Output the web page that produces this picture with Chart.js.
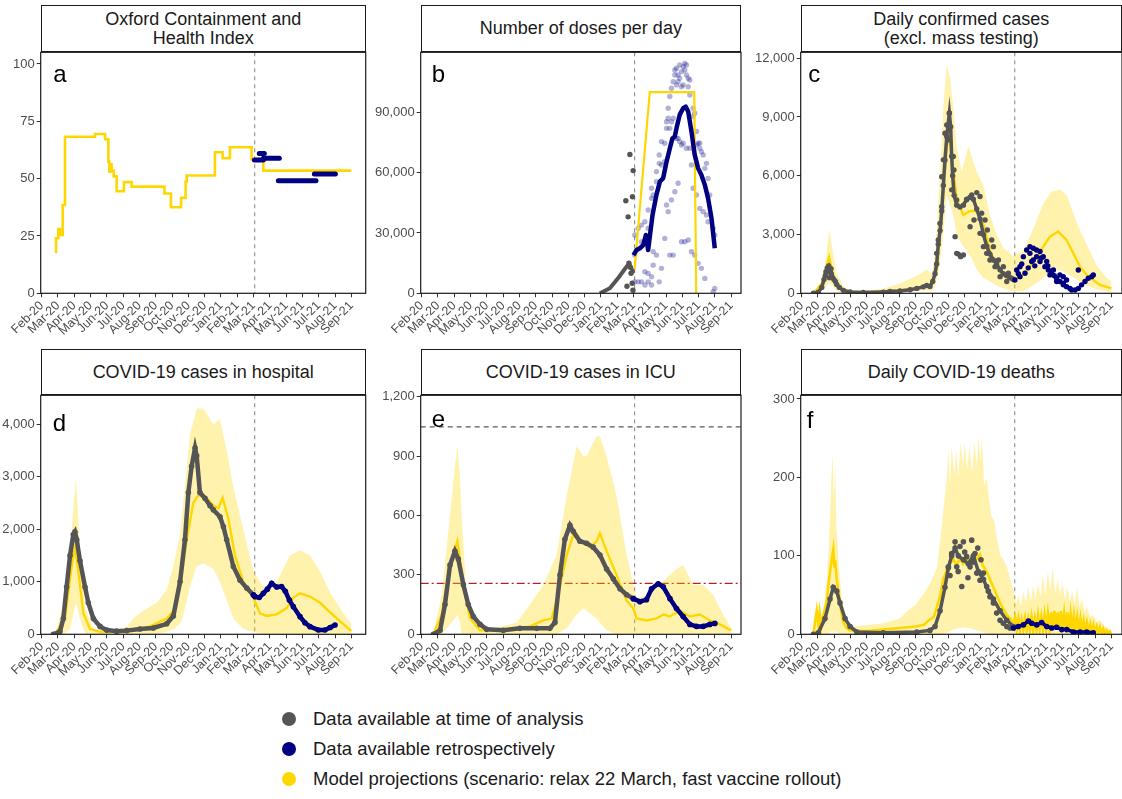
<!DOCTYPE html>
<html>
<head>
<meta charset="utf-8">
<script src="https://cdn.jsdelivr.net/npm/chart.js@4.4.1/dist/chart.umd.min.js"></script>
<style>
  body { margin: 0; width: 1122px; height: 799px; overflow: hidden; background: #fff; position: relative;
         font-family: "Liberation Sans", Arial, sans-serif; }
  canvas { position: absolute; }
  .strip { position: absolute; box-sizing: border-box; border: 1.3px solid #1a1a1a; background: #fff;
           display: flex; align-items: center; justify-content: center; text-align: center;
           font-size: 18px; line-height: 19px; color: #1a1a1a; }
  .legend { position: absolute; left: 282px; top: 704px; font-size: 18.5px; color: #1a1a1a; }
  .legend div { height: 30px; display: flex; align-items: center; }
  .legend .dot { width: 14px; height: 14px; border-radius: 50%; margin-right: 17px; }
</style>
</head>
<body>
<div class="legend">
  <div><span class="dot" style="background:#555555"></span>Data available at time of analysis</div>
  <div><span class="dot" style="background:#000080"></span>Data available retrospectively</div>
  <div><span class="dot" style="background:#FFD700"></span>Model projections (scenario: relax 22 March, fast vaccine rollout)</div>
</div>
<script>
// -------------------- Axes (x = mois depuis le 1er février 2020)
const months = ['Feb-20','Mar-20','Apr-20','May-20','Jun-20','Jul-20','Aug-20','Sep-20','Oct-20','Nov-20',
                'Dec-20','Jan-21','Feb-21','Mar-21','Apr-21','May-21','Jun-21','Jul-21','Aug-21','Sep-21'];
const monthTicks = [0,1,2,3,4,5,6,7,8,9,10,11,12,13,14,15,16,17,18,19];
const analysisDate = 13.07;

const oxfordTicks = [0, 25, 50, 75, 100];
const doseTicks = [0, 30000, 60000, 90000];
const caseTicks = [0, 3000, 6000, 9000, 12000];
const hospTicks = [0, 1000, 2000, 3000, 4000];
const icuTicks = [0, 300, 600, 900, 1200];
const deathTicks = [0, 100, 200, 300];

// -------------------- a : Oxford index
const oxfordModel = [[0.82,18],[0.88,24],[1.02,28],[1.12,25.5],[1.29,38.5],[1.43,68.3],[3.27,69.5],[3.89,67.2],
  [4.09,57.5],[4.15,53],[4.23,56.3],[4.29,53.5],[4.42,51],[4.6,44.5],[5.05,48.5],[5.52,46.5],[7.53,43.5],
  [7.93,37.5],[8.55,41.6],[8.83,48.7],[8.9,51.4],[10.63,61.5],[11.1,58.9],[11.55,63.7],[12.88,58.4],[13.6,53.5],[19.0,53.5]];
// segments observés : [début, fin, valeur]
const oxfordObs = [[13.05,13.6,58.1],[13.35,13.66,61],[13.6,14.58,58.9],[14.52,16.83,49.1],[16.73,18.02,52]];

// -------------------- b : doses par jour
const dosesModel = [[13.07,12000],[14.0,100000],[16.73,100000],[16.85,0]];
const dosesAvgOld = [[10.94,0],[11.55,2500],[12.1,8000],[12.6,13500],[12.75,14500],[12.9,12000],[13.0,10000]];
const dosesDailyOld = [[12.53,46000],[12.67,38000],[12.78,69000],[12.94,48000],[12.98,61000],[12.6,3500],
  [12.72,15000],[12.85,10000],[12.92,5000],[12.97,1500],[12.8,13000]];
const dosesAvgNew = [[13.0,19000],[13.19,21500],[13.39,22400],[13.6,24000],[13.76,29000],[13.9,21500],[14.0,28000],
  [14.17,38900],[14.41,48900],[14.62,55500],[14.82,57200],[15.03,65400],[15.23,72000],[15.39,77000],[15.54,78000],
  [15.64,82000],[15.84,88800],[16.05,92000],[16.21,92800],[16.36,90300],[16.56,80400],[16.76,68800],[16.97,62100],
  [17.17,58800],[17.38,53900],[17.58,47200],[17.79,37300],[17.99,22400]];
const dosesDailyNew = [[13.08,29000],[13.08,19000],[13.08,5700],[13.29,32300],[13.29,5700],[13.49,33900],[13.49,25600],
  [13.49,5700],[13.7,35600],[13.7,10700],[13.7,4100],[13.9,41400],[13.9,32300],[13.9,9900],[13.9,5700],[14.11,52200],
  [14.11,47200],[14.11,8200],[14.11,4100],[14.21,48900],[14.21,20700],[14.21,14000],[14.41,60500],[14.41,55500],
  [14.41,19000],[14.58,68800],[14.58,64600],[14.58,5700],[14.72,75400],[14.72,63800],[14.72,12400],[14.92,74600],
  [14.92,65400],[14.92,27300],[15.03,85300],[15.03,82000],[15.03,43900],[15.13,92000],[15.13,87000],[15.13,40600],
  [15.23,97800],[15.23,82000],[15.23,19000],[15.33,101900],[15.33,85300],[15.33,46400],[15.44,105200],[15.44,87000],
  [15.44,19000],[15.54,111000],[15.54,108500],[15.54,50500],[15.64,111900],[15.64,103600],[15.64,77000],
  [15.74,108500],[15.74,105200],[15.74,54700],[15.74,77000],[15.84,113500],[15.84,106900],[15.84,75400],
  [15.95,110200],[15.95,102700],[15.95,73700],[15.95,25600],[16.05,112700],[16.05,103600],[16.05,74600],
  [16.15,114300],[16.15,111000],[16.15,25600],[16.25,113500],[16.25,108500],[16.25,72100],[16.36,106900],
  [16.36,102700],[16.36,26500],[16.46,106000],[16.46,98600],[16.46,72100],[16.56,63800],[16.56,20700],
  [16.66,92000],[16.66,87800],[16.66,52200],[16.76,89500],[16.76,19000],[16.87,80400],[16.87,73700],[16.87,48900],
  [16.97,74600],[16.97,14900],[17.07,74600],[17.07,72100],[17.07,42200],[17.17,70400],[17.17,12400],[17.28,68800],
  [17.28,40600],[17.38,62100],[17.38,7400],[17.48,64600],[17.48,38900],[17.58,57100],[17.58,35600],[17.68,48900],
  [17.89,32300],[17.89,800],[17.99,29000],[17.99,2400]];

// -------------------- c : cas confirmés  ([x, bas, haut] pour les bandes)
const casesBand = [[0.72,0,0],[1.02,50,300],[1.33,200,800],[1.55,400,2200],[1.68,500,3300],[1.84,450,2500],[2.15,100,1000],
  [2.56,20,350],[2.97,0,150],[3.99,0,100],[5.01,30,250],[6.03,60,500],[7.06,100,900],[7.67,150,1200],[7.98,100,1000],
  [8.18,300,2000],[8.49,1500,6000],[8.69,3000,9500],[8.9,5000,11700],[9.1,4500,11000],[9.3,4000,9500],[9.51,3000,7500],
  [9.82,2500,6200],[10.12,2200,7200],[10.22,2000,7500],[10.43,1800,7000],[10.74,1200,6200],[11.15,800,5500],
  [11.55,600,4000],[11.96,400,3000],[12.37,250,2300],[12.99,100,1900],[13.6,100,2200],[14.21,400,3300],[14.83,800,4600],
  [15.34,1100,5200],[15.85,1200,5300],[16.26,1000,5000],[16.87,700,3600],[17.48,400,2500],[18.1,200,1400],
  [18.71,100,800],[19.0,50,600]];
const casesModel = [[0.72,0],[1.23,500],[1.5,1300],[1.68,1850],[1.9,1000],[2.25,300],[2.97,50],[5.01,100],[7.06,250],
  [7.87,400],[8.28,1200],[8.59,4000],[8.9,7500],[9.04,8000],[9.2,7000],[9.51,4800],[9.92,4000],[10.33,4200],
  [10.74,4200],[11.15,3500],[11.55,2200],[11.96,1300],[12.37,900],[12.99,700],[13.6,950],[14.21,1600],[14.52,1950],
  [14.82,2380],[15.23,2890],[15.74,3150],[16.25,2720],[16.66,2040],[17.07,1360],[17.48,940],[17.89,680],[18.3,430],[19.0,250]];
const casesOld = [[0.72,0],[1.02,50],[1.23,300],[1.37,700],[1.49,1100],[1.57,1300],[1.66,1400],[1.74,1200],[1.82,1000],
  [1.9,800],[1.98,700],[2.07,600],[2.15,450],[2.31,300],[2.56,150],[2.97,70],[3.78,40],[5.01,60],[5.42,100],[6.03,120],
  [6.65,180],[7.06,250],[7.46,330],[7.67,400],[7.87,350],[8.04,600],[8.18,1000],[8.28,1500],[8.38,2500],[8.49,3200],
  [8.59,4200],[8.69,5500],[8.79,6800],[8.9,8000],[8.98,8600],[9.06,9200],[9.14,8500],[9.2,7000],[9.26,6000],[9.35,5000],
  [9.51,4500],[9.71,4400],[9.92,4500],[10.12,4800],[10.33,4900],[10.53,4800],[10.74,4300],[10.94,3800],[11.15,3000],
  [11.35,2400],[11.55,2000],[11.76,1700],[11.96,1500],[12.17,1200],[12.37,1000],[12.58,900],[12.78,800],[12.99,700]];
const casesOldScatter = [[9.06,9190],[8.9,8590],[8.79,8170],[9.0,7830],[8.69,6810],[9.3,6980],[8.59,5950],[9.34,6290],
  [9.2,5280],[9.51,4760],[8.59,4420],[8.48,3570],[8.38,2720],[8.28,2040],[9.41,2890],[9.51,2040],[9.61,2000],[9.75,1870],
  [9.92,1960],[10.12,4770],[10.43,5020],[10.74,5140],[10.94,4940],[10.33,3400],[10.57,3740],[10.94,3060],[11.15,2380],
  [11.35,2040],[11.55,1700],[11.86,1360],[12.17,850],[12.58,600],[11.04,4090],[11.25,3740],[11.39,3230],[11.66,2720],
  [11.76,2380],[12.07,1700],[12.37,1360],[12.68,1020],[12.88,770],[1.45,900],[1.62,1100],[1.7,800],[1.8,1250]];
const casesNew = [[13.08,680],[13.19,1190],[13.39,1360],[13.6,1870],[13.8,2210],[14.0,2380],[14.21,2300],[14.41,2210],
  [14.62,2130],[14.82,1870],[13.39,850],[13.7,1020],[14.11,1620],[14.21,1700],[14.62,1620],[14.92,1360],[15.13,1190],
  [15.33,1020],[15.64,770],[15.84,600],[16.05,430],[16.25,340],[16.56,170],[16.77,170],[16.97,250],[17.17,430],
  [17.38,600],[17.58,770],[17.79,850],[17.89,940],[16.97,1190],[14.0,2040],[14.41,1870],[15.03,1620],[15.44,1190],
  [15.84,940],[16.05,850],[16.25,680],[15.23,940],[15.64,600],[16.05,510],[16.46,250],[13.29,1000],[13.5,1500],
  [13.9,1300],[14.3,1400],[14.7,1800],[15.1,1400],[15.5,900]];

// -------------------- d : hôpital
const hospBand = [[0.82,0,0],[1.33,0,600],[1.74,100,1600],[2.1,600,3000],[2.35,300,1600],[2.66,0,500],[3.17,0,100],
  [3.99,0,50],[5.22,0,150],[5.62,0,300],[6.24,0,450],[7.06,0,600],[7.67,50,850],[8.08,100,1300],[8.49,200,1900],
  [8.59,250,2200],[9.1,900,3800],[9.51,1300,4300],[9.92,1350,4300],[10.53,1250,4000],[10.94,1000,4100],[11.35,650,3500],
  [11.76,300,2800],[12.37,100,2000],[12.99,50,1200],[13.6,0,900],[14.42,0,1000],[15.24,0,1500],[15.85,0,1600],
  [16.46,0,1500],[17.08,0,1200],[17.69,0,800],[18.5,0,400],[19.0,0,200]];
const hospModel = [[0.82,0],[1.43,300],[1.84,1300],[2.04,1650],[2.25,1200],[2.56,400],[2.97,100],[3.58,50],[5.62,80],
  [6.65,150],[7.67,300],[8.08,450],[8.49,900],[8.9,1800],[9.3,2500],[9.61,2650],[10.12,2600],[10.53,2450],[10.84,2400],
  [11.1,2600],[11.45,2200],[11.86,1500],[12.37,1000],[12.99,700],[13.39,400],[13.8,350],[14.42,380],[15.03,500],
  [15.44,700],[15.85,780],[16.46,720],[17.08,600],[17.69,420],[18.3,250],[19.0,60]];
const hospOld = [[0.72,0],[1.12,50],[1.33,300],[1.53,900],[1.74,1500],[1.94,1900],[2.04,1950],[2.15,1800],[2.35,1400],
  [2.66,900],[2.86,600],[3.17,300],[3.58,150],[3.99,80],[4.6,60],[5.22,70],[6.03,100],[6.85,120],[7.67,200],[8.08,350],
  [8.49,1000],[8.79,1800],[9.0,2700],[9.2,3200],[9.41,3550],[9.51,3400],[9.71,2700],[10.02,2590],[10.33,2450],
  [10.53,2370],[10.94,2240],[11.15,2050],[11.35,1800],[11.76,1290],[12.17,1030],[12.58,880],[12.99,750]];
const hospNew = [[12.99,750],[13.09,717],[13.35,700],[13.6,780],[13.85,860],[14.11,970],[14.42,900],[14.72,910],
  [14.95,820],[15.2,650],[15.44,527],[15.85,336],[16.15,220],[16.46,146],[16.97,83],[17.38,83],[17.7,130],[18.0,178]];

// -------------------- e : réanimation
const icuBand = [[0.72,0,0],[1.23,0,200],[1.74,50,600],[2.04,80,850],[2.19,100,950],[2.35,60,800],[2.45,0,600],
  [2.76,0,200],[3.17,0,50],[3.99,0,20],[5.83,0,60],[6.65,0,150],[7.46,0,250],[8.28,0,400],[8.9,30,700],[9.51,100,950],
  [9.92,130,900],[10.12,120,900],[10.74,80,1000],[10.94,60,1000],[11.35,20,900],[11.96,0,700],[12.58,0,400],
  [13.19,0,180],[13.8,0,200],[14.62,0,250],[15.23,0,300],[15.64,0,330],[16.05,0,350],[16.67,0,250],[17.28,0,250],
  [17.89,0,200],[18.5,0,100],[19.0,0,30]];
const icuModel = [[0.72,0],[1.23,100],[1.74,350],[2.19,470],[2.56,250],[2.97,80],[3.58,20],[5.01,20],[6.65,40],
  [7.46,70],[7.98,80],[8.38,200],[8.9,400],[9.3,500],[9.92,460],[10.33,440],[10.74,470],[10.94,510],[11.35,420],
  [11.96,300],[12.58,170],[12.99,130],[13.19,80],[13.8,70],[14.42,80],[14.83,100],[15.23,90],[15.85,120],[16.46,90],
  [17.08,100],[17.69,70],[18.3,50],[19.0,20]];
const icuOld = [[0.72,0],[1.13,20],[1.43,150],[1.74,350],[2.04,420],[2.25,380],[2.56,250],[2.86,150],[3.17,90],
  [3.58,50],[3.99,25],[5.01,20],[6.03,30],[7.06,30],[7.87,30],[8.18,60],[8.49,300],[8.79,480],[9.1,550],[9.3,520],
  [9.71,470],[10.12,460],[10.53,440],[10.94,400],[11.35,330],[11.76,280],[12.17,230],[12.58,200],[12.99,180]];
const icuNew = [[12.99,180],[13.39,165],[13.8,175],[14.11,230],[14.52,255],[14.83,240],[15.24,180],[15.64,130],
  [16.05,90],[16.46,50],[16.87,40],[17.28,40],[17.69,50],[18.0,55]];
const icuCapacity = 1048;
const icuBaseline = 257;

// -------------------- f : décès
const deathBand = [[0.72,0,0],[0.85,0,30],[0.95,0,8],[1.05,0,32],[1.15,0,10],[1.25,0,30],[1.35,0,20],[1.45,0,55],
  [1.55,0,70],[1.65,1,110],[1.74,2,150],[1.82,3,200],[1.9,4,230],[1.97,3,170],[2.05,4,220],[2.12,3,140],[2.2,2,120],
  [2.3,1,80],[2.45,0,50],[2.6,0,30],[2.8,0,18],[3.2,0,10],[4.0,0,12],[5.0,0,14],[6.0,0,20],[6.5,0,30],[7.0,0,38],
  [7.5,0,52],[8.0,0,70],[8.3,0,85],[8.5,0,120],[8.7,1,160],[8.9,2,200],[9.0,3,235],[9.1,4,190],[9.2,5,240],
  [9.35,6,205],[9.5,7,235],[9.6,8,200],[9.75,8,245],[9.9,9,215],[10.0,9,245],[10.15,8,210],[10.3,8,240],
  [10.45,7,205],[10.6,6,245],[10.75,5,215],[10.85,4,255],[10.95,4,220],[11.05,3,250],[11.2,2,190],[11.35,1,200],
  [11.5,0,170],[11.65,0,150],[11.8,0,145],[12.0,0,120],[12.2,0,100],[12.4,0,95],[12.6,0,85],[12.8,0,70],[13.0,0,55],
  [13.15,0,40],[13.3,0,50],[13.45,0,35],[13.6,0,55],[13.75,0,40],[13.9,0,60],[14.05,0,42],[14.2,0,62],[14.35,0,45],
  [14.5,0,65],[14.65,0,48],[14.8,0,75],[14.95,0,50],[15.1,0,80],[15.25,0,55],[15.4,0,85],[15.55,0,52],[15.7,0,70],
  [15.85,0,50],[16.0,0,65],[16.15,0,45],[16.3,0,60],[16.45,0,42],[16.6,0,55],[16.75,0,38],[16.9,0,60],[17.05,0,35],
  [17.2,0,45],[17.35,0,28],[17.5,0,35],[17.7,0,22],[17.9,0,25],[18.1,0,15],[18.3,0,18],[18.6,0,10],[19.0,0,4]];
const deathModel = [[0.72,0],[0.92,30],[1.02,12],[1.1,28],[1.2,10],[1.33,25],[1.45,35],[1.55,45],[1.65,65],[1.74,80],
  [1.84,95],[1.94,108],[2.0,85],[2.05,95],[2.15,70],[2.25,55],[2.35,40],[2.46,25],[2.56,15],[2.76,8],[2.97,5],[4.0,4],
  [5.0,6],[6.0,8],[7.0,10],[7.5,12],[7.8,18],[8.1,22],[8.3,35],[8.5,50],[8.69,70],[8.9,82],[9.1,90],[9.3,96],[9.5,88],
  [9.71,97],[9.9,90],[10.1,98],[10.33,92],[10.5,100],[10.7,95],[10.94,102],[11.1,88],[11.35,80],[11.55,70],[11.76,60],
  [11.96,50],[12.17,40],[12.37,32],[12.58,25],[12.78,20],[12.99,15],[13.1,22],[13.2,6],[13.3,20],[13.4,5],[13.5,18],
  [13.6,6],[13.7,20],[13.8,5],[13.9,19],[14.0,6],[14.1,22],[14.2,5],[14.3,20],[14.4,6],[14.5,24],[14.6,6],
  [14.7,22],[14.8,7],[14.9,25],[15.0,6],[15.1,26],[15.2,7],[15.3,28],[15.4,6],[15.5,30],[15.6,7],[15.7,28],
  [15.8,6],[15.9,30],[16.0,7],[16.1,27],[16.2,6],[16.3,28],[16.4,6],[16.5,26],[16.6,5],[16.7,24],[16.8,5],
  [16.9,22],[17.0,4],[17.1,20],[17.2,4],[17.3,17],[17.4,3],[17.5,15],[17.6,3],[17.7,13],[17.8,2],[17.9,12],[18.0,2],
  [18.1,10],[18.2,2],[18.3,9],[18.4,1],[18.5,7],[18.6,1],[18.7,5],[18.8,1],[18.9,4],[19.0,1]];
const deathOld = [[0.72,0],[1.02,2],[1.43,20],[1.74,45],[1.94,60],[2.15,55],[2.35,40],[2.66,20],[2.97,10],[3.38,3],
  [5.0,2],[7.06,3],[7.87,5],[8.18,10],[8.49,30],[8.79,60],[9.0,85],[9.2,100],[9.41,110],[9.61,100],[9.92,95],
  [10.22,90],[10.53,100],[10.84,80],[11.15,70],[11.45,55],[11.76,45],[12.17,30],[12.58,18],[12.99,10]];
const deathOldScatter = [[9.0,86],[9.2,103],[9.41,118],[9.51,86],[9.71,112],[9.92,118],[9.82,61],[10.12,99],[10.33,86],
  [10.43,120],[10.63,103],[10.74,78],[10.94,69],[11.15,78],[11.35,61],[11.55,48],[11.76,40],[11.96,27],[12.17,18],
  [12.37,14],[12.58,10],[12.78,8],[9.1,75],[9.6,80],[10.0,105],[10.2,72],[10.5,92],[10.8,110],[11.0,95]];
const deathNew = [[12.99,8],[13.29,10],[13.6,12],[13.91,17],[14.11,14],[14.42,12],[14.72,15],[15.03,10],[15.34,8],
  [15.64,9],[15.95,6],[16.26,6],[16.67,3],[17.08,3],[17.48,3],[17.89,2]];

// -------------------- Couleurs et helpers
const FONT = '"Liberation Sans", Arial, sans-serif';
const GOLD = '#FFD700', NAVY = '#000080', GREY = '#555555';
const RIBBON = 'rgba(255, 215, 0, 0.32)';

const xy = arr => arr.map(([x, y]) => ({ x, y }));

function ribbon(arr) {
    return [
        { data: arr.map(([x, lo]) => ({ x, y: lo })), borderColor: 'transparent', borderWidth: 0, pointRadius: 0, fill: false, order: 10 },
        { data: arr.map(([x, , hi]) => ({ x, y: hi })), borderColor: 'transparent', borderWidth: 0, pointRadius: 0, fill: '-1', backgroundColor: RIBBON, order: 10 }
    ];
}
function line(arr, color, width, order, extra) {
    return Object.assign({ data: xy(arr), borderColor: color, borderWidth: width, pointRadius: 0, fill: false, order }, extra || {});
}
function dots(arr, color, r, order) {
    return { data: xy(arr), showLine: false, pointRadius: r, pointBackgroundColor: color, pointBorderWidth: 0, order };
}
function dotLine(arr, color, width, r, order) {
    return { data: xy(arr), borderColor: color, borderWidth: width, pointRadius: r, pointBackgroundColor: color,
             pointBorderWidth: 0, fill: false, order };
}

// -------------------- Panneaux
const panels = [
    { key: 'a', title: ['Oxford Containment and', 'Health Index'], canvasLeft: 0, left: 40.7, top: 52.3, w: 325, h: 241,
      stripTop: 5.3, xMax: 19.88, yMax: 105.1, yTicks: oxfordTicks, letterPos: [12.6, 29.4],
      datasets: [
          ...oxfordObs.map(([x0, x1, v]) => line([[x0, v], [x1, v]], NAVY, 5, 3, { borderCapStyle: 'round' })),
          line(oxfordModel, GOLD, 2.6, 5, { stepped: true })
      ] },
    { key: 'b', title: ['Number of doses per day'], canvasLeft: 370, left: 420.7, top: 52.3, w: 320.3, h: 241,
      stripTop: 5.3, xMax: 19.6, yMax: 119800, yTicks: doseTicks, letterPos: [11, 29.4],
      datasets: [
          line(dosesAvgNew, NAVY, 4.5, 2, { borderJoinStyle: 'round' }),
          line(dosesModel, GOLD, 2.2, 3),
          dotLine(dosesAvgOld, GREY, 4, 0, 4),
          dots(dosesDailyOld, GREY, 2.7, 4),
          dots(dosesDailyNew, 'rgba(0, 0, 128, 0.3)', 2.7, 6)
      ] },
    { key: 'c', title: ['Daily confirmed cases', '(excl. mass testing)'], canvasLeft: 750, left: 800.7, top: 52.3, w: 321.3, h: 241,
      stripTop: 5.3, xMax: 19.65, yMax: 12300, yTicks: caseTicks, letterPos: [7.6, 29.4],
      datasets: [
          ...ribbon(casesBand),
          line(casesModel, GOLD, 2.4, 6),
          dotLine(casesOld, GREY, 3.5, 2.7, 4),
          dots(casesOldScatter, GREY, 2.7, 4),
          dots(casesNew, NAVY, 2.7, 3)
      ] },
    { key: 'd', title: ['COVID-19 cases in hospital'], canvasLeft: 0, left: 40.7, top: 395.3, w: 325, h: 239,
      stripTop: 349, xMax: 19.88, yMax: 4552, yTicks: hospTicks, letterPos: [12, 35.7],
      datasets: [
          ...ribbon(hospBand),
          line(hospModel, GOLD, 2.4, 6),
          dotLine(hospOld, GREY, 4.5, 2.8, 4),
          dotLine(hospNew, NAVY, 4.5, 2.8, 3)
      ] },
    { key: 'e', title: ['COVID-19 cases in ICU'], canvasLeft: 370, left: 420.7, top: 395.3, w: 320.3, h: 239,
      stripTop: 349, xMax: 19.6, yMax: 1207, yTicks: icuTicks, letterPos: [11, 32],
      hlines: [
          { y: icuCapacity, color: '#5a5a5a', dash: [5, 4] },
          { y: icuBaseline, color: '#b22222', dash: [8, 3, 2, 3] }
      ],
      datasets: [
          ...ribbon(icuBand),
          line(icuModel, GOLD, 2.4, 6),
          dotLine(icuOld, GREY, 4.5, 2.8, 4),
          dotLine(icuNew, NAVY, 4.5, 2.8, 3)
      ] },
    { key: 'f', title: ['Daily COVID-19 deaths'], canvasLeft: 750, left: 800.7, top: 395.3, w: 321.3, h: 239,
      stripTop: 349, xMax: 19.65, yMax: 304.7, yTicks: deathTicks, letterPos: [6, 33],
      datasets: [
          ...ribbon(deathBand),
          line(deathModel, GOLD, 2.6, 6),
          dotLine(deathOld, GREY, 3.5, 2.8, 4),
          dots(deathOldScatter, GREY, 2.8, 4),
          dotLine(deathNew, NAVY, 3.5, 2.8, 3)
      ] }
];

// Décor : ligne pointillée, lignes horizontales, cadre, lettre
const panelDecor = {
    id: 'panelDecor',
    beforeDatasetsDraw(chart, args, opts) {
        const { ctx, chartArea: a, scales } = chart;
        ctx.save();
        ctx.beginPath();
        ctx.rect(a.left, a.top, a.right - a.left, a.bottom - a.top);
        ctx.clip();
        const vx = scales.x.getPixelForValue(analysisDate);
        ctx.setLineDash([4, 4]);
        ctx.strokeStyle = '#8c8c8c';
        ctx.lineWidth = 1.1;
        ctx.beginPath(); ctx.moveTo(vx, a.top); ctx.lineTo(vx, a.bottom); ctx.stroke();
        (opts.hlines || []).forEach(h => {
            const py = scales.y.getPixelForValue(h.y);
            ctx.setLineDash(h.dash);
            ctx.strokeStyle = h.color;
            ctx.lineWidth = 1.3;
            ctx.beginPath(); ctx.moveTo(a.left, py); ctx.lineTo(a.right, py); ctx.stroke();
        });
        ctx.restore();
    },
    afterDraw(chart, args, opts) {
        const { ctx, chartArea: a } = chart;
        ctx.save();
        ctx.strokeStyle = '#1a1a1a';
        ctx.lineWidth = 1.2;
        ctx.strokeRect(a.left, a.top, a.right - a.left, a.bottom - a.top);
        ctx.fillStyle = '#000';
        ctx.font = '24px ' + FONT;
        ctx.textBaseline = 'alphabetic';
        ctx.fillText(opts.letter, a.left + opts.letterPos[0], a.top + opts.letterPos[1]);
        ctx.restore();
    }
};

panels.forEach(p => {
    // bandeau titre
    const strip = document.createElement('div');
    strip.className = 'strip';
    strip.style.left = p.left + 'px';
    strip.style.top = p.stripTop + 'px';
    strip.style.width = p.w + 'px';
    strip.style.height = (p.top - p.stripTop) + 'px';
    strip.innerHTML = p.title.join('<br>');

    // canvas
    const canvasTop = Math.floor(p.top - 10);
    const padTop = p.top - canvasTop;
    const yAxisW = p.left - p.canvasLeft;
    const width = Math.ceil(yAxisW + p.w + 15);
    const height = Math.ceil(padTop + p.h + 45);
    const padRight = width - yAxisW - p.w;
    const xAxisH = height - padTop - p.h;

    const canvas = document.createElement('canvas');
    canvas.width = width;
    canvas.height = height;
    canvas.style.left = p.canvasLeft + 'px';
    canvas.style.top = canvasTop + 'px';
    document.body.appendChild(canvas);
    document.body.appendChild(strip);

    new Chart(canvas, {
        type: 'line',
        data: { datasets: p.datasets },
        plugins: [panelDecor],
        options: {
            responsive: false,
            animation: false,
            devicePixelRatio: 1,
            events: [],
            layout: { padding: { top: padTop, right: padRight, left: 0, bottom: 0 } },
            plugins: {
                legend: { display: false },
                tooltip: { enabled: false },
                panelDecor: { letter: p.key, letterPos: p.letterPos, hlines: p.hlines }
            },
            scales: {
                x: {
                    type: 'linear', min: -0.06, max: p.xMax,
                    afterBuildTicks: s => { s.ticks = monthTicks.map(v => ({ value: v })); },
                    afterFit: s => { s.height = xAxisH; },
                    grid: { drawOnChartArea: false, tickLength: 4, color: '#333', lineWidth: 1 },
                    border: { display: false },
                    ticks: {
                        autoSkip: false, maxRotation: 45, minRotation: 45, padding: 1,
                        color: '#4d4d4d', font: { family: FONT, size: 12.5 },
                        callback: (v, i) => months[i]
                    }
                },
                y: {
                    type: 'linear', min: 0, max: p.yMax,
                    afterBuildTicks: s => { s.ticks = p.yTicks.map(v => ({ value: v })); },
                    afterFit: s => { s.width = yAxisW; },
                    grid: { drawOnChartArea: false, tickLength: 4, color: '#333', lineWidth: 1 },
                    border: { display: false },
                    ticks: {
                        padding: 2, color: '#4d4d4d', font: { family: FONT, size: 13 },
                        callback: v => v.toLocaleString('en-US')
                    }
                }
            }
        }
    });
});
</script>
</body>
</html>
